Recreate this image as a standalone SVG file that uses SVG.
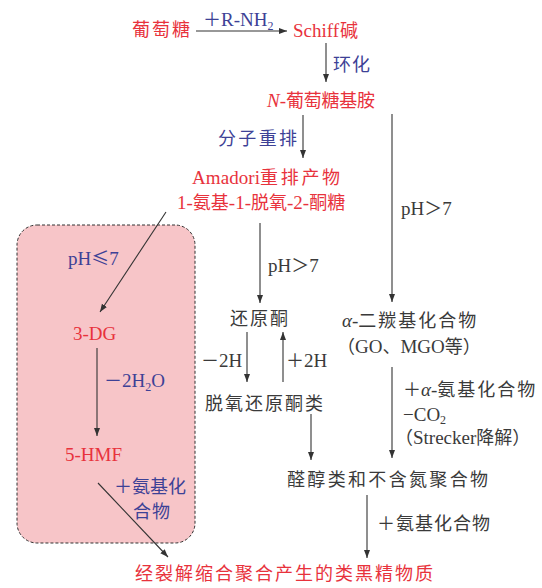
<svg xmlns="http://www.w3.org/2000/svg" width="542" height="588" viewBox="0 0 542 588">
<defs>
<marker id="ah" viewBox="0 0 8 8" refX="8" refY="4" markerWidth="8" markerHeight="8" markerUnits="userSpaceOnUse" orient="auto">
<path d="M0,1 L8,4 L0,7 Z" fill="#333"/>
</marker>
<style>
text{font-family:"Noto Sans CJK SC","Liberation Serif",sans-serif;font-size:18px}
.l{font-family:"Liberation Serif",serif;font-size:19px}
.r{fill:#e8323c}
.b{fill:#3d4196}
.g{fill:#3a3a3a}
.c line{stroke:#333;stroke-width:1.1;marker-end:url(#ah)}
.sub{font-family:"Liberation Serif",serif;font-size:12px}
</style>
</defs>
<rect id="box" x="17" y="225" width="178" height="318" rx="20" fill="#f7c5c8" stroke="#333" stroke-width="1" stroke-dasharray="3,2"/>
<g class="c" id="connectors">
<line x1="196" y1="31" x2="287" y2="31"/>
<line x1="326" y1="43" x2="326" y2="82"/>
<line x1="303" y1="115" x2="303" y2="158"/>
<line x1="392" y1="114" x2="392" y2="302"/>
<line x1="166" y1="212" x2="100" y2="312"/>
<line x1="97" y1="348" x2="97" y2="436"/>
<line x1="98" y1="483" x2="168" y2="557"/>
<line x1="260" y1="223" x2="260" y2="303"/>
<line x1="247" y1="332" x2="247" y2="382"/>
<line x1="283" y1="382" x2="283" y2="332"/>
<line x1="311" y1="414" x2="311" y2="460"/>
<line x1="392" y1="367" x2="392" y2="458"/>
<line x1="367" y1="495" x2="367" y2="558"/>
</g>
<g id="glucose"><text class="r" x="132" y="36" textLength="58" lengthAdjust="spacing">葡萄糖</text></g>
<g id="lbl-rnh2"><text class="b" x="203" y="26"><tspan>＋</tspan><tspan class="l">R-NH</tspan><tspan class="sub" dy="4">2</tspan></text></g>
<g id="schiff"><text class="r" x="293" y="37"><tspan class="l">Schiff</tspan><tspan dx="1">碱</tspan></text></g>
<g id="lbl-cyc"><text class="b" x="333" y="71" textLength="37" lengthAdjust="spacing">环化</text></g>
<g id="nglyco"><text class="r" x="267" y="107"><tspan class="l" font-style="italic">N</tspan><tspan class="l">-</tspan><tspan textLength="89" lengthAdjust="spacing">葡萄糖基胺</tspan></text></g>
<g id="lbl-rearr"><text class="b" x="218" y="145" textLength="79" lengthAdjust="spacing">分子重排</text></g>
<g id="amadori">
<text class="r" x="192" y="184"><tspan class="l" textLength="68" lengthAdjust="spacing">Amadori</tspan><tspan textLength="80" lengthAdjust="spacing">重排产物</tspan></text>
<text class="r" x="177" y="209"><tspan class="l">1-</tspan><tspan>氨基</tspan><tspan class="l">-1-</tspan><tspan>脱氧</tspan><tspan class="l">-2-</tspan><tspan>酮糖</tspan></text>
</g>
<g id="lbl-ph1"><text class="g" x="401" y="215"><tspan class="l">pH</tspan><tspan>＞</tspan><tspan class="l">7</tspan></text></g>
<g id="lbl-ph2"><text class="b" x="68" y="265"><tspan class="l">pH</tspan><tspan>≤</tspan><tspan class="l">7</tspan></text></g>
<g id="dg"><text class="r l" x="73" y="340">3-DG</text></g>
<g id="lbl-h2o"><text class="b" x="104" y="387"><tspan>－</tspan><tspan class="l">2H</tspan><tspan class="sub" dy="4">2</tspan><tspan class="l" dy="-4">O</tspan></text></g>
<g id="hmf"><text class="r l" x="65" y="461">5-HMF</text></g>
<g id="lbl-amino1">
<text class="b" x="114" y="493" textLength="72" lengthAdjust="spacing">＋氨基化</text>
<text class="b" x="133" y="518" textLength="37" lengthAdjust="spacing">合物</text>
</g>
<g id="lbl-ph3"><text class="g" x="268" y="272"><tspan class="l">pH</tspan><tspan>＞</tspan><tspan class="l">7</tspan></text></g>
<g id="reductone"><text class="g" x="230" y="325" textLength="58" lengthAdjust="spacing">还原酮</text></g>
<g id="lbl-m2h"><text class="g" x="201" y="367"><tspan>－</tspan><tspan class="l">2H</tspan></text></g>
<g id="lbl-p2h"><text class="g" x="286" y="367"><tspan>＋</tspan><tspan class="l">2H</tspan></text></g>
<g id="dehydro"><text class="g" x="205" y="410" textLength="118" lengthAdjust="spacing">脱氧还原酮类</text></g>
<g id="dicarbonyl">
<text class="g" x="342" y="327"><tspan class="l" font-style="italic">α</tspan><tspan class="l">-</tspan><tspan textLength="118" lengthAdjust="spacing">二羰基化合物</tspan></text>
<text class="g" x="337" y="353"><tspan>（</tspan><tspan class="l">GO</tspan><tspan>、</tspan><tspan class="l">MGO</tspan><tspan>等）</tspan></text>
</g>
<g id="lbl-strecker">
<text class="g" x="403" y="396"><tspan>＋</tspan><tspan class="l" font-style="italic">α</tspan><tspan class="l">-</tspan><tspan textLength="98" lengthAdjust="spacing">氨基化合物</tspan></text>
<text class="g" x="403" y="421"><tspan class="l">−CO</tspan><tspan class="sub" dy="3">2</tspan></text>
<text class="g" x="395" y="444"><tspan>（</tspan><tspan class="l">Strecker</tspan><tspan>降解）</tspan></text>
</g>
<g id="aldols"><text class="g" x="287" y="486" textLength="201" lengthAdjust="spacing">醛醇类和不含氮聚合物</text></g>
<g id="lbl-amino2"><text class="g" x="377" y="530" textLength="113" lengthAdjust="spacing">＋氨基化合物</text></g>
<g id="melanoidin"><text class="r" x="135" y="580" textLength="298" lengthAdjust="spacing">经裂解缩合聚合产生的类黑精物质</text></g>
</svg>
